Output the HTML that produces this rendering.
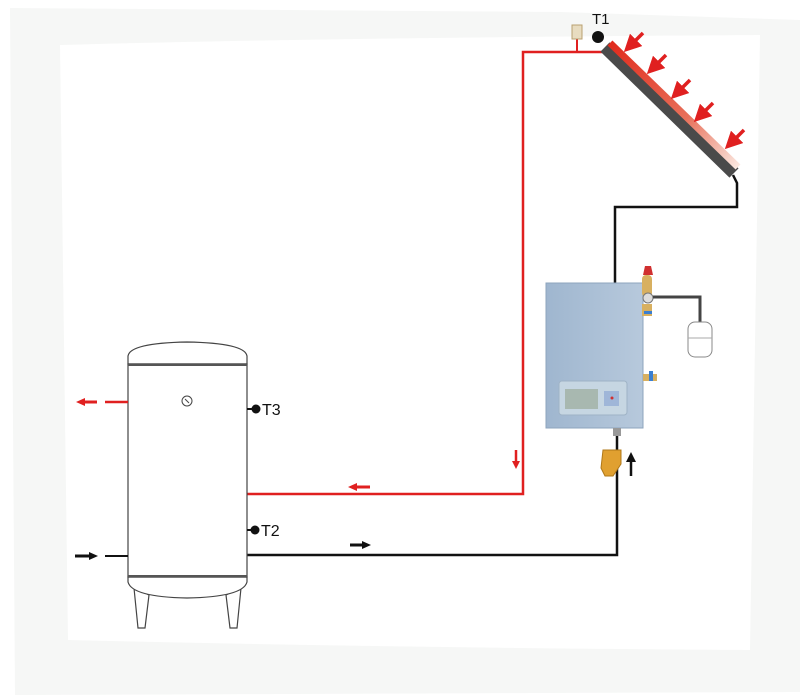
<!DOCTYPE html>
<html><head><meta charset="utf-8"><style>
html,body{margin:0;padding:0;background:#fff;}
svg{display:block;font-family:"Liberation Sans",sans-serif;}
</style></head><body>
<svg width="804" height="698" viewBox="0 0 804 698" xmlns="http://www.w3.org/2000/svg">
<defs>
<linearGradient id="col" x1="0" y1="0" x2="1" y2="1">
<stop offset="0" stop-color="#e02a1c"/><stop offset="0.6" stop-color="#e8705a"/><stop offset="1" stop-color="#fbe8e0"/>
</linearGradient>
<linearGradient id="box" x1="0" y1="0" x2="1" y2="0">
<stop offset="0" stop-color="#9fb6cf"/><stop offset="1" stop-color="#b7c9dc"/>
</linearGradient>
<marker id="ar" viewBox="0 0 10 10" refX="5" refY="5" markerWidth="5" markerHeight="5" orient="auto"><path d="M0,0 L10,5 L0,10z" fill="#e02020"/></marker>
</defs>
<path fill-rule="evenodd" fill="#f6f7f6" d="M10,8 L560,12 L800,20 L800,692 L15,695 Z M60,45 Q300,38 760,35 L750,650 Q400,648 68,640 Z"/>
<!-- red pipe -->
<polyline points="247,494 523,494 523,52 602,52" fill="none" stroke="#e02020" stroke-width="2.5"/>
<line x1="577" y1="52" x2="577" y2="38" stroke="#e02020" stroke-width="2"/>
<rect x="572" y="25" width="10" height="14" fill="#e8dcc0" stroke="#b9a070" stroke-width="1"/>
<!-- collector -->
<line x1="605" y1="47" x2="734" y2="173" stroke="#4a4a4a" stroke-width="13"/>
<line x1="610" y1="43" x2="738" y2="167" stroke="url(#col)" stroke-width="7"/>
<circle cx="598" cy="37" r="6" fill="#111"/>
<text x="592" y="24" font-size="15" fill="#111">T1</text>
<g stroke="#e02020" stroke-width="3.5" marker-end="url(#ar)">
<line x1="643" y1="33" x2="630" y2="46"/><line x1="666" y1="55" x2="653" y2="68"/>
<line x1="690" y1="80" x2="677" y2="93"/><line x1="713" y1="103" x2="700" y2="116"/>
<line x1="744" y1="130" x2="731" y2="143"/>
</g>
<!-- black pipes -->
<polyline points="733,175 737,183 737,207 615,207 615,283" fill="none" stroke="#111" stroke-width="2.5"/>
<polyline points="617,428 617,555 247,555" fill="none" stroke="#111" stroke-width="2.5"/>
<!-- controller -->
<rect x="546" y="283" width="97" height="145" fill="url(#box)" stroke="#8ea4bd"/>
<rect x="559" y="381" width="68" height="34" rx="3" fill="#c6d6e2" stroke="#9fb3c6"/>
<rect x="565" y="389" width="33" height="20" fill="#a8b8b0"/>
<rect x="604" y="391" width="15" height="15" fill="#9fb6d8"/>
<circle cx="612" cy="398" r="1.5" fill="#d03030"/>
<rect x="642" y="275" width="10" height="22" rx="4" fill="#d8b060"/>
<path d="M643,275 l2,-9 h6 l2,9z" fill="#d03030"/>
<circle cx="648" cy="298" r="5" fill="#ddd" stroke="#777"/>
<rect x="642" y="304" width="10" height="12" fill="#d8b060"/>
<rect x="644" y="311" width="8" height="3" fill="#3b7fd0"/>
<polyline points="653,297 700,297 700,322" fill="none" stroke="#444" stroke-width="3"/>
<rect x="688" y="322" width="24" height="35" rx="7" fill="#fff" stroke="#888"/>
<line x1="688" y1="338" x2="712" y2="338" stroke="#aaa"/>
<rect x="643" y="374" width="14" height="7" fill="#d8b060"/><rect x="649" y="371" width="4" height="10" fill="#3b7fd0"/>
<rect x="613" y="428" width="8" height="8" fill="#999"/>
<path d="M603,450 h18 v14 l-8,12 h-8 l-4,-8z" fill="#e0a030" stroke="#b07818"/>
<!-- arrows -->
<line x1="631" y1="476" x2="631" y2="460" stroke="#111" stroke-width="2.5"/><path d="M626,462 L631,452 L636,462z" fill="#111"/>
<line x1="516" y1="450" x2="516" y2="462" stroke="#e02020" stroke-width="2.5"/><path d="M512,461 L516,469 L520,461z" fill="#e02020"/>
<line x1="370" y1="487" x2="356" y2="487" stroke="#e02020" stroke-width="3"/><path d="M357,483 L348,487 L357,491z" fill="#e02020"/>
<line x1="350" y1="545" x2="363" y2="545" stroke="#111" stroke-width="3"/><path d="M362,541 L371,545 L362,549z" fill="#111"/>
<!-- tank -->
<g fill="#fff" stroke="#444" stroke-width="1.2">
<path d="M134,588 L138,628 H145 L149,595 Z"/>
<path d="M241,588 L237,628 H230 L226,595 Z"/>
<path d="M128,577 v5 Q132,597 187,598 Q243,597 247,582 v-5z"/>
<path d="M128,364 v-8 Q130,343 187,342 Q245,343 247,356 v8z"/>
<rect x="128" y="364" width="119" height="213"/>
</g>
<line x1="128" y1="576" x2="247" y2="576" stroke="#555" stroke-width="2"/>
<line x1="128" y1="365" x2="247" y2="365" stroke="#555" stroke-width="2"/>
<circle cx="187" cy="401" r="5" fill="none" stroke="#444"/><line x1="185" y1="399" x2="189" y2="403" stroke="#444"/>
<line x1="105" y1="402" x2="128" y2="402" stroke="#e02020" stroke-width="2.5"/>
<line x1="97" y1="402" x2="84" y2="402" stroke="#e02020" stroke-width="3"/><path d="M85,398 L76,402 L85,406z" fill="#e02020"/>
<line x1="105" y1="556" x2="128" y2="556" stroke="#111" stroke-width="2"/>
<line x1="75" y1="556" x2="90" y2="556" stroke="#111" stroke-width="3"/><path d="M89,552 L98,556 L89,560z" fill="#111"/>
<line x1="247" y1="409" x2="253" y2="409" stroke="#111" stroke-width="2"/><circle cx="256" cy="409" r="4.5" fill="#111"/>
<text x="262" y="415" font-size="16" fill="#111">T3</text>
<line x1="247" y1="530" x2="251" y2="530" stroke="#111" stroke-width="2"/><circle cx="255" cy="530" r="4.5" fill="#111"/>
<text x="261" y="536" font-size="16" fill="#111">T2</text>
</svg>
</body></html>
